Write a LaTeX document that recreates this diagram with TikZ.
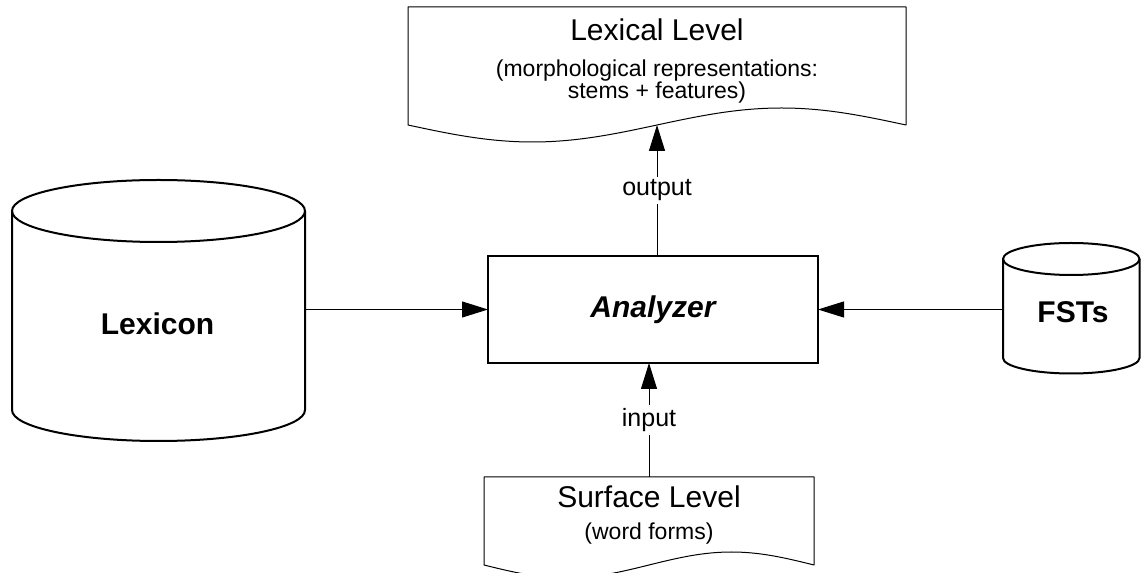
\documentclass[tikz,border=0pt]{standalone}
\usepackage{fontspec}
\setmainfont{Liberation Sans}
\usetikzlibrary{arrows.meta}
\begin{document}
\begin{tikzpicture}[x=1pt,y=1pt,
  conn/.style={line width=1pt, draw=black},
  arr/.style={conn, -{Triangle[length=26pt,width=16pt]}},
  solidline/.style={line width=2pt, line join=round},
  docline/.style={line width=1pt, line join=round},
  title/.style={font=\fontsize{30}{36}\selectfont, anchor=base, inner sep=0pt},
  sub/.style={font=\fontsize{23}{27}\selectfont, anchor=base, inner sep=0pt},
  big/.style={font=\bfseries\fontsize{30}{36}\selectfont, anchor=base, inner sep=0pt},
  lbl/.style={font=\fontsize{25}{30}\selectfont, fill=white, inner sep=3pt},
  area/.style={inner sep=0pt, outer sep=0pt}]
\useasboundingbox (0,0) rectangle (1141,573);

% Analyzer box
\node[area, draw, line width=2pt, minimum width=330, minimum height=107] (ana) at (653,263.5) {};
\node[big, font=\bfseries\itshape\fontsize{30}{36}\selectfont] (anatext) at (653,255) {Analyzer};

% Lexicon cylinder
\node[area, minimum width=293, minimum height=261] (lex) at (158.5,262.5) {};
\draw[solidline] (12,362) -- (12,163) arc[start angle=180,end angle=360,x radius=146.5,y radius=31] -- (305,362);
\draw[solidline] (158.5,362) ellipse[x radius=146.5, y radius=31];
\node[big] (lextext) at (157.5,238) {Lexicon};

% FSTs cylinder
\node[area, minimum width=136.5, minimum height=130] (fst) at (1071.25,265) {};
\draw[solidline] (1003,314) -- (1003,215) arc[start angle=180,end angle=360,x radius=68.25,y radius=15.5] -- (1139.5,314);
\draw[solidline] (1071.25,314) ellipse[x radius=68.25, y radius=16];
\node[big] (fsttext) at (1073,250) {FSTs};

% Lexical level document
\node[area, minimum width=498, minimum height=118] (lexdoc) at (657,507) {};
\draw[docline] (lexdoc.south west) -- (lexdoc.north west) -- (lexdoc.north east) -- (lexdoc.south east)
  sin (781.5,465) cos (lexdoc.south) sin (532.5,431) cos (lexdoc.south west) -- cycle;
\node[title] (lextitle) at (657,532) {Lexical Level};
\node[sub] (lexsub1) at (657,496) {(morphological representations:};
\node[sub] (lexsub2) at (657,474) {stems + features)};

% Surface level document
\node[area, minimum width=330, minimum height=88] (surfdoc) at (649,52) {};
\draw[docline] (surfdoc.south west) -- (surfdoc.north west) -- (surfdoc.north east) -- (surfdoc.south east)
  sin (731.5,21) cos (surfdoc.south) sin (566.5,-5) cos (surfdoc.south west) -- cycle;
\node[title] (surftitle) at (649,65) {Surface Level};
\node[sub] (surfsub) at (649,33) {(word forms)};

% Connectors
\draw[arr] (lex.east |- ana.west) -- (ana.west);
\draw[arr] (fst.west |- ana.east) -- (ana.east);
\draw[arr] (lexdoc.south |- ana.north) -- (lexdoc.south) node[lbl, midway] (outlbl) {output};
\draw[arr] (surfdoc.north) -- (surfdoc.north |- ana.south) node[lbl, midway] (inlbl) {input};
\end{tikzpicture}
\end{document}
